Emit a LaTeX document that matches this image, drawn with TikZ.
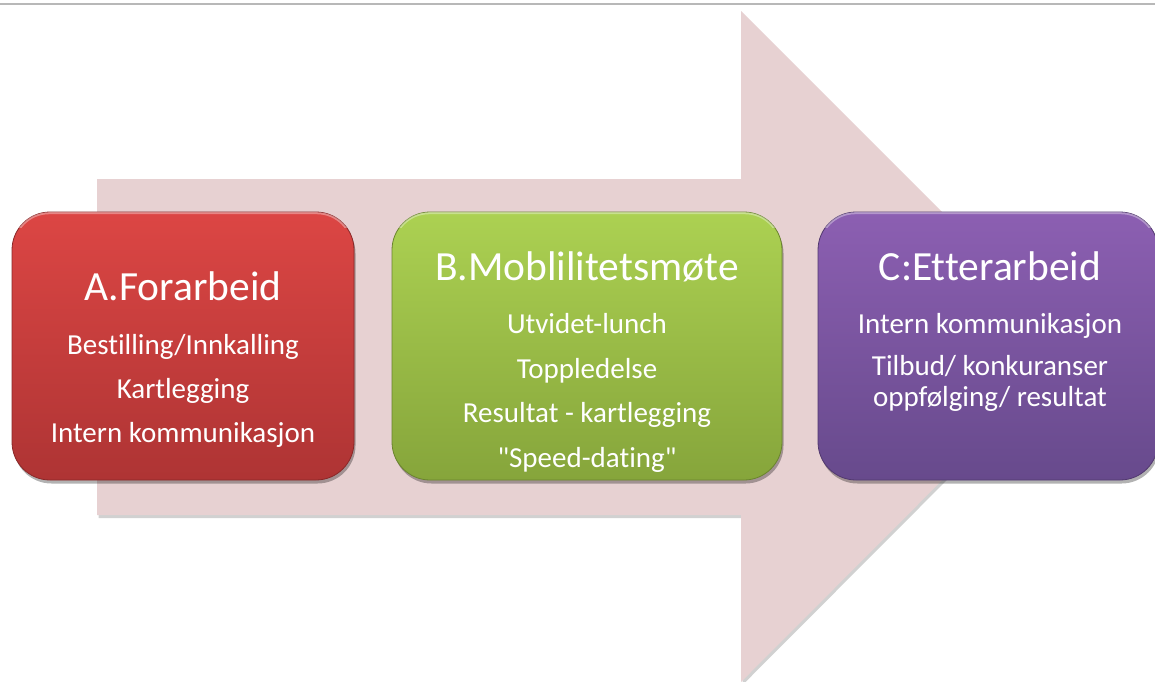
\documentclass[tikz,border=0pt]{standalone}
\usepackage{fontspec}
\newfontfamily\boxfont{Carlito}[Ligatures=NoCommon]
\usetikzlibrary{shadows,calc}
\definecolor{arrowpink}{HTML}{E7D1D2}
\definecolor{redtop}{HTML}{DC4644}
\definecolor{redbot}{HTML}{AE3434}
\definecolor{rededge}{HTML}{8A2828}
\definecolor{greentop}{HTML}{ACD152}
\definecolor{greenbot}{HTML}{86A53B}
\definecolor{greenedge}{HTML}{6A842E}
\definecolor{purpletop}{HTML}{8C5FB2}
\definecolor{purplebot}{HTML}{674A8C}
\definecolor{purpleedge}{HTML}{52396F}
\tikzset{
  phasebox/.style={rectangle, rounded corners=38pt, draw=#1edge, line width=0.8pt,
    top color=#1top, bottom color=#1bot, inner sep=0pt, minimum height=268pt,
    drop shadow={shadow xshift=1.5pt, shadow yshift=-3.5pt, opacity=0.3, fill=black}},
  bevel/.style={white, opacity=0.35, line width=2pt, rounded corners=36pt},
  phasetitle/.style={text=white, font=\boxfont\fontsize{41.5}{48}\selectfont, anchor=base, inner sep=0pt},
  phaseitem/.style={text=white, font=\boxfont\fontsize{29}{35}\selectfont, anchor=base, inner sep=0pt},
}
\begin{document}
\begin{tikzpicture}[x=1pt,y=-1pt]
\useasboundingbox (0,0) rectangle (1155,681);
\fill[white] (0,0) rectangle (1155,681);
\draw[black!28, line width=1.5pt] (0,4) -- (1155,4);
% big arrow: shadow and body
\fill[black, opacity=0.18] ([shift={(1.5,3)}]97,179) -- ([shift={(1.5,3)}]741,179) -- ([shift={(1.5,3)}]741,11)
  -- ([shift={(1.5,3)}]1076,346) -- ([shift={(1.5,3)}]741,682) -- ([shift={(1.5,3)}]741,515)
  -- ([shift={(1.5,3)}]97,515) -- cycle;
\fill[arrowpink] (97,179) -- (741,179) -- (741,11) -- (1076,346) -- (741,682) -- (741,515) -- (97,515) -- cycle;
% boxes
\node[phasebox=red, minimum width=342pt] (boxA) at (183,346) {};
\node[phasebox=green, minimum width=390pt] (boxB) at (587,346) {};
\node[phasebox=purple, minimum width=340pt] (boxC) at (988,346) {};
% top bevel highlights
\foreach \b in {boxA,boxB,boxC}{
  \begin{scope}
    \clip ($(\b.north west)+(-2,-2)$) rectangle ($(\b.north east)+(2,16)$);
    \draw[bevel] ([shift={(1.6,1.6)}]\b.north west) rectangle ([shift={(-1.6,-1.6)}]\b.south east);
  \end{scope}
}
% box A text
\node[phasetitle] (titleA) at (183,300) {A.Forarbeid};
\node[phaseitem] (a1) at (183,354) {Bestilling/Innkalling};
\node[phaseitem] (a2) at (183,398) {Kartlegging};
\node[phaseitem] (a3) at (183,442) {Intern kommunikasjon};
% box B text
\node[phasetitle] (titleB) at (587,280) {B.Moblilitetsmøte};
\node[phaseitem] (b1) at (587,333) {Utvidet-lunch};
\node[phaseitem] (b2) at (587,378) {Toppledelse};
\node[phaseitem] (b3) at (587,422) {Resultat - kartlegging};
\node[phaseitem] (b4) at (587,467) {"Speed-dating"};
% box C text
\node[phasetitle] (titleC) at (990,280) {C:Etterarbeid};
\node[phaseitem] (c1) at (990,333) {Intern kommunikasjon};
\node[phaseitem] (c2) at (990,375) {Tilbud/ konkuranser};
\node[phaseitem] (c3) at (990,406) {oppfølging/ resultat};
\end{tikzpicture}
\end{document}
